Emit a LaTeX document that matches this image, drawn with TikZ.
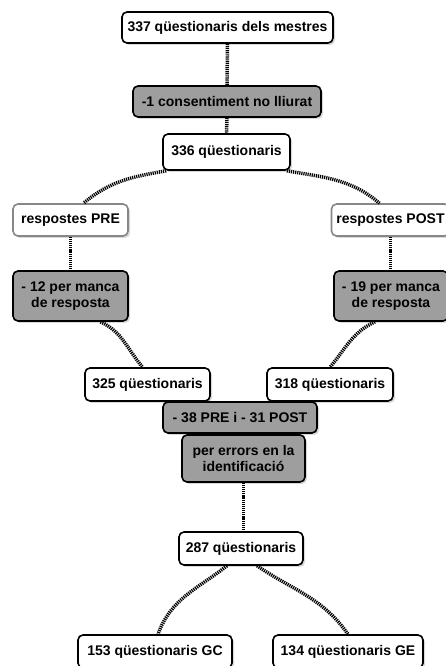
\documentclass[tikz,border=0pt]{standalone}
\usepackage{fontspec}
\setmainfont{Liberation Sans}
\usepackage{xcolor}
\usetikzlibrary{shadows}
\definecolor{boxfill}{RGB}{158,158,158}
\definecolor{softedge}{RGB}{135,135,135}

\begin{document}
\begin{tikzpicture}[x=1pt,y=1pt,
  font=\fontsize{14}{15.5}\selectfont\bfseries,
  whitebox/.style={draw=black, line width=1.6pt, fill=white, rounded corners=5pt,
    align=center, inner sep=0pt, minimum height=33pt,
    drop shadow={shadow xshift=2pt, shadow yshift=-2pt, opacity=0.3}},
  greybox/.style={whitebox, fill=boxfill},
  softbox/.style={whitebox, draw=softedge},
  dotline/.style={line width=3.5pt, dash pattern=on 1.2pt off 0.9pt}]
\useasboundingbox (0,0) rectangle (445,666);

% Text Node
\node [whitebox, minimum width=211pt, minimum height=31pt] (top) at (227.5,638.5) {337 qüestionaris dels mestres};
% Text Node
\node [greybox, minimum width=188pt, minimum height=31pt] (cons) at (227,564.5) {-1 consentiment no lliurat};
% Text Node
\node [whitebox, minimum width=127pt, minimum height=36pt] (q336) at (226.5,514) {336 qüestionaris};
% Text Node
\node [softbox, minimum width=115pt, minimum height=32pt] (pre) at (70.5,446) {respostes PRE};
% Text Node
\node [softbox, minimum width=118pt, minimum height=32pt] (post) at (390.5,446) {respostes POST};
% Text Node
\node [greybox, minimum width=115pt, minimum height=50pt] (m12) at (70.5,370) {- 12 per manca\\de resposta};
% Text Node
\node [greybox, minimum width=114pt, minimum height=50pt] (m19) at (391,370) {- 19 per manca\\de resposta};
% Text Node
\node [whitebox, minimum width=125pt] (q325) at (147.5,281.5) {325 qüestionaris};
% Text Node
\node [whitebox, minimum width=126pt] (q318) at (330,281.5) {318 qüestionaris};
% Text Node
\node [greybox, minimum width=154pt, minimum height=31pt] (pre31) at (240,248.5) {- 38 PRE i - 31 POST};
% Text Node
\node [greybox, minimum width=123pt, minimum height=47pt] (ident) at (243.5,207.5) {per errors en la\\identificació};
% Text Node
\node [whitebox, minimum width=124pt] (q287) at (241,117.5) {287 qüestionaris};
% Text Node
\node [whitebox, minimum width=154pt] (gc) at (155,14.5) {153 qüestionaris GC};
% Text Node
\node [whitebox, minimum width=150pt] (ge) at (348,14.5) {134 qüestionaris GE};

%Straight Lines
\draw [dotline] (top.south) -- (cons.north);
\draw [dotline] (cons.south) -- (q336.north);
\draw [dotline] (pre.south) -- (m12.north);
\draw [dotline] (post.south) -- (post.south |- m19.north);
\draw [dotline] (ident.south) -- (ident.south |- q287.north);

%Curve Lines
\draw [dotline] ([xshift=4pt]q336.south west) to[out=190, in=40] ([xshift=13pt]pre.north);
\draw [dotline] ([xshift=-4pt]q336.south east) to[out=-10, in=140] ([xshift=-11pt]post.north);
\draw [dotline] ([xshift=30pt]m12.south) to[out=-25, in=130] ([xshift=-5pt]q325.north);
\draw [dotline] ([xshift=-16pt]m19.south) to[out=205, in=50] (q318.north);
\draw [dotline] ([xshift=-14pt]q287.south) to[out=218, in=70] ([xshift=3pt]gc.north);
\draw [dotline] ([xshift=16pt]q287.south) to[out=-34, in=125] (ge.north);

\end{tikzpicture}
\end{document}
